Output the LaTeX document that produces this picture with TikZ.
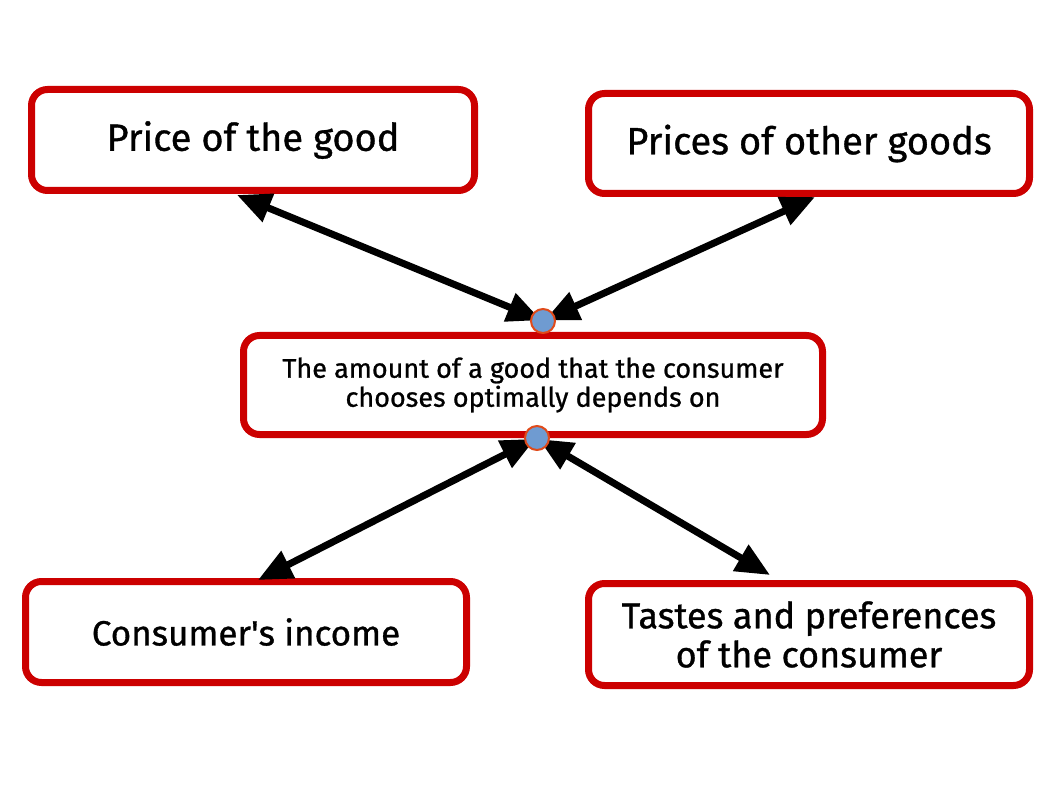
\documentclass[tikz,border=0pt]{standalone}
\usepackage{fontspec}
\setmainfont{Fira Sans}[FakeBold=0.9]
\newfontfamily\rawfont{Fira Sans}[FakeBold=0.9, Ligatures=TeXOff]
\usetikzlibrary{arrows.meta}
\definecolor{boxred}{HTML}{CC0000}
\definecolor{dotblue}{HTML}{6F9BD1}
\definecolor{dotrim}{HTML}{E04A1A}
\newcommand{\apos}{{\rawfont\char"0027}}
\tikzset{
  box/.style={draw=boxred, line width=7pt, fill=white, rounded corners=16pt,
    align=center, inner sep=0pt, text=black},
  bigtxt/.style={font=\fontsize{38}{40}\selectfont},
  midtxt/.style={font=\fontsize{27}{29}\selectfont},
  conn/.style={line width=7pt, draw=black,
    {Triangle[length=34pt,width=29pt]}-{Triangle[length=34pt,width=29pt]}},
  hub/.style={circle, fill=dotblue, draw=dotrim, line width=2pt,
    minimum size=24pt, inner sep=0pt}
}
\begin{document}
\begin{tikzpicture}[x=1pt,y=-1pt]
\useasboundingbox (0,0) rectangle (1058,794);
\fill[white] (0,0) rectangle (1058,794);
\node[box, bigtxt, minimum width=443pt, minimum height=101pt] (price) at (253,140) {Price of the good};
\node[box, bigtxt, minimum width=441pt, minimum height=100pt] (others) at (809,143.5) {Prices of other goods};
\node[box, midtxt, minimum width=579pt, minimum height=99pt] (center) at (533,385) {The amount of a good that the consumer\\chooses optimally depends on};
\node[box, font=\fontsize{35}{39}\selectfont, minimum width=441pt, minimum height=101pt] (income) at (246,632) {Consumer\apos s income};
\node[box, font=\fontsize{36}{39}\selectfont, minimum width=441pt, minimum height=102pt] (tastes) at (809,634.5) {Tastes and preferences\\of the consumer};
\coordinate (hubtop) at (543,321);
\coordinate (hubbot) at (537,438);
\coordinate (tipA) at (237,195);
\coordinate (tipB) at (815,197);
\coordinate (tipC) at (258,580);
\coordinate (tipD) at (770,575);
\draw[conn, shorten <=2pt] (hubtop) -- (tipA);
\draw[conn, shorten <=2pt] (hubtop) -- (tipB);
\draw[conn, shorten <=2pt] (hubbot) -- (tipC);
\draw[conn, shorten <=2pt] (hubbot) -- (tipD);
\node[hub] (dtop) at (hubtop) {};
\node[hub] (dbot) at (hubbot) {};
\end{tikzpicture}
\end{document}
